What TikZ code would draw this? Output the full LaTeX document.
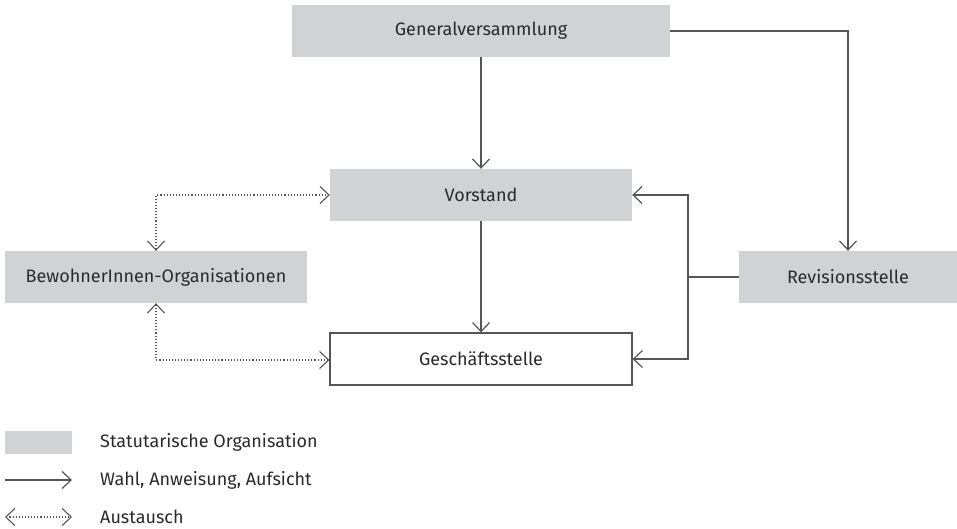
\documentclass[tikz,border=0pt]{standalone}
\usepackage{fontspec}
\setmainfont{Fira Sans}
\usetikzlibrary{arrows.meta}

\definecolor{boxgray}{HTML}{D1D2D4}
\definecolor{linegray}{HTML}{555555}
\definecolor{textgray}{HTML}{2A2A2A}

\begin{document}
\begin{tikzpicture}%
        [x=1pt, y=-1pt,
        every node/.style={font=\fontsize{18}{21}\selectfont, text=textgray},
        organ/.style={fill=boxgray, minimum height=52pt, inner sep=0pt},
        office/.style={draw=linegray, line width=1.2pt, fill=white, minimum height=52pt, inner sep=0pt},
        duty/.style={draw=linegray, line width=1.2pt, -{Straight Barb[length=9pt,width=17pt]}},
        swap/.style={draw=linegray, line width=1.1pt, dotted, {Straight Barb[length=9pt,width=17pt]}-{Straight Barb[length=9pt,width=17pt]}},
        legtext/.style={anchor=west, inner sep=0pt}]

    \useasboundingbox (0,0) rectangle (957,529);

    %% Drawing the organs
    \node[organ, minimum width=378pt] (gv)  at (481,31)  {Generalversammlung};
    \node[organ, minimum width=302pt] (vs)  at (481,195) {Vorstand};
    \node[organ, minimum width=302pt] (bo)  at (156,277) {BewohnerInnen-Organisationen};
    \node[organ, minimum width=218pt] (rev) at (848,277) {Revisionsstelle};
    \node[office, minimum width=302pt] (gs) at (481,359) {Geschäftsstelle};

    %% Helper points
    \coordinate (gvr) at (848,31);
    \coordinate (rj)  at (688,277);
    \coordinate (lj)  at (156,195);
    \coordinate (lk)  at (156,360);

    %%
    %% Drawing the connections
    %%
    \draw[duty] (gv) -- (vs);
    \draw[duty] (vs) -- (gs);
    \draw[duty] (gv.east) -- (gvr) -- (rev.north);
    \draw[draw=linegray, line width=1.2pt] (rev.west) -- (rj);
    \draw[duty] (rj) |- (vs.east);
    \draw[duty] (rj) |- (gs.east);
    \draw[swap] (bo.north) -- (lj) -- (vs.west);
    \draw[swap] (bo.south) -- (lk) -- (gs.west |- lk);

    %%
    %% Drawing the legend
    %%
    \node[organ, minimum width=67pt, minimum height=23pt] (leg1) at (38.5,442.5) {};
    \node[legtext] (t1) at (100,442) {Statutarische Organisation};
    \coordinate (l2a) at (5,480);
    \coordinate (l2b) at (72,480);
    \draw[duty] (l2a) -- (l2b);
    \node[legtext] (t2) at (100,480) {Wahl, Anweisung, Aufsicht};
    \coordinate (l3a) at (5,517);
    \coordinate (l3b) at (72,517);
    \draw[swap] (l3a) -- (l3b);
    \node[legtext] (t3) at (100,517) {Austausch};
\end{tikzpicture}
\end{document}
